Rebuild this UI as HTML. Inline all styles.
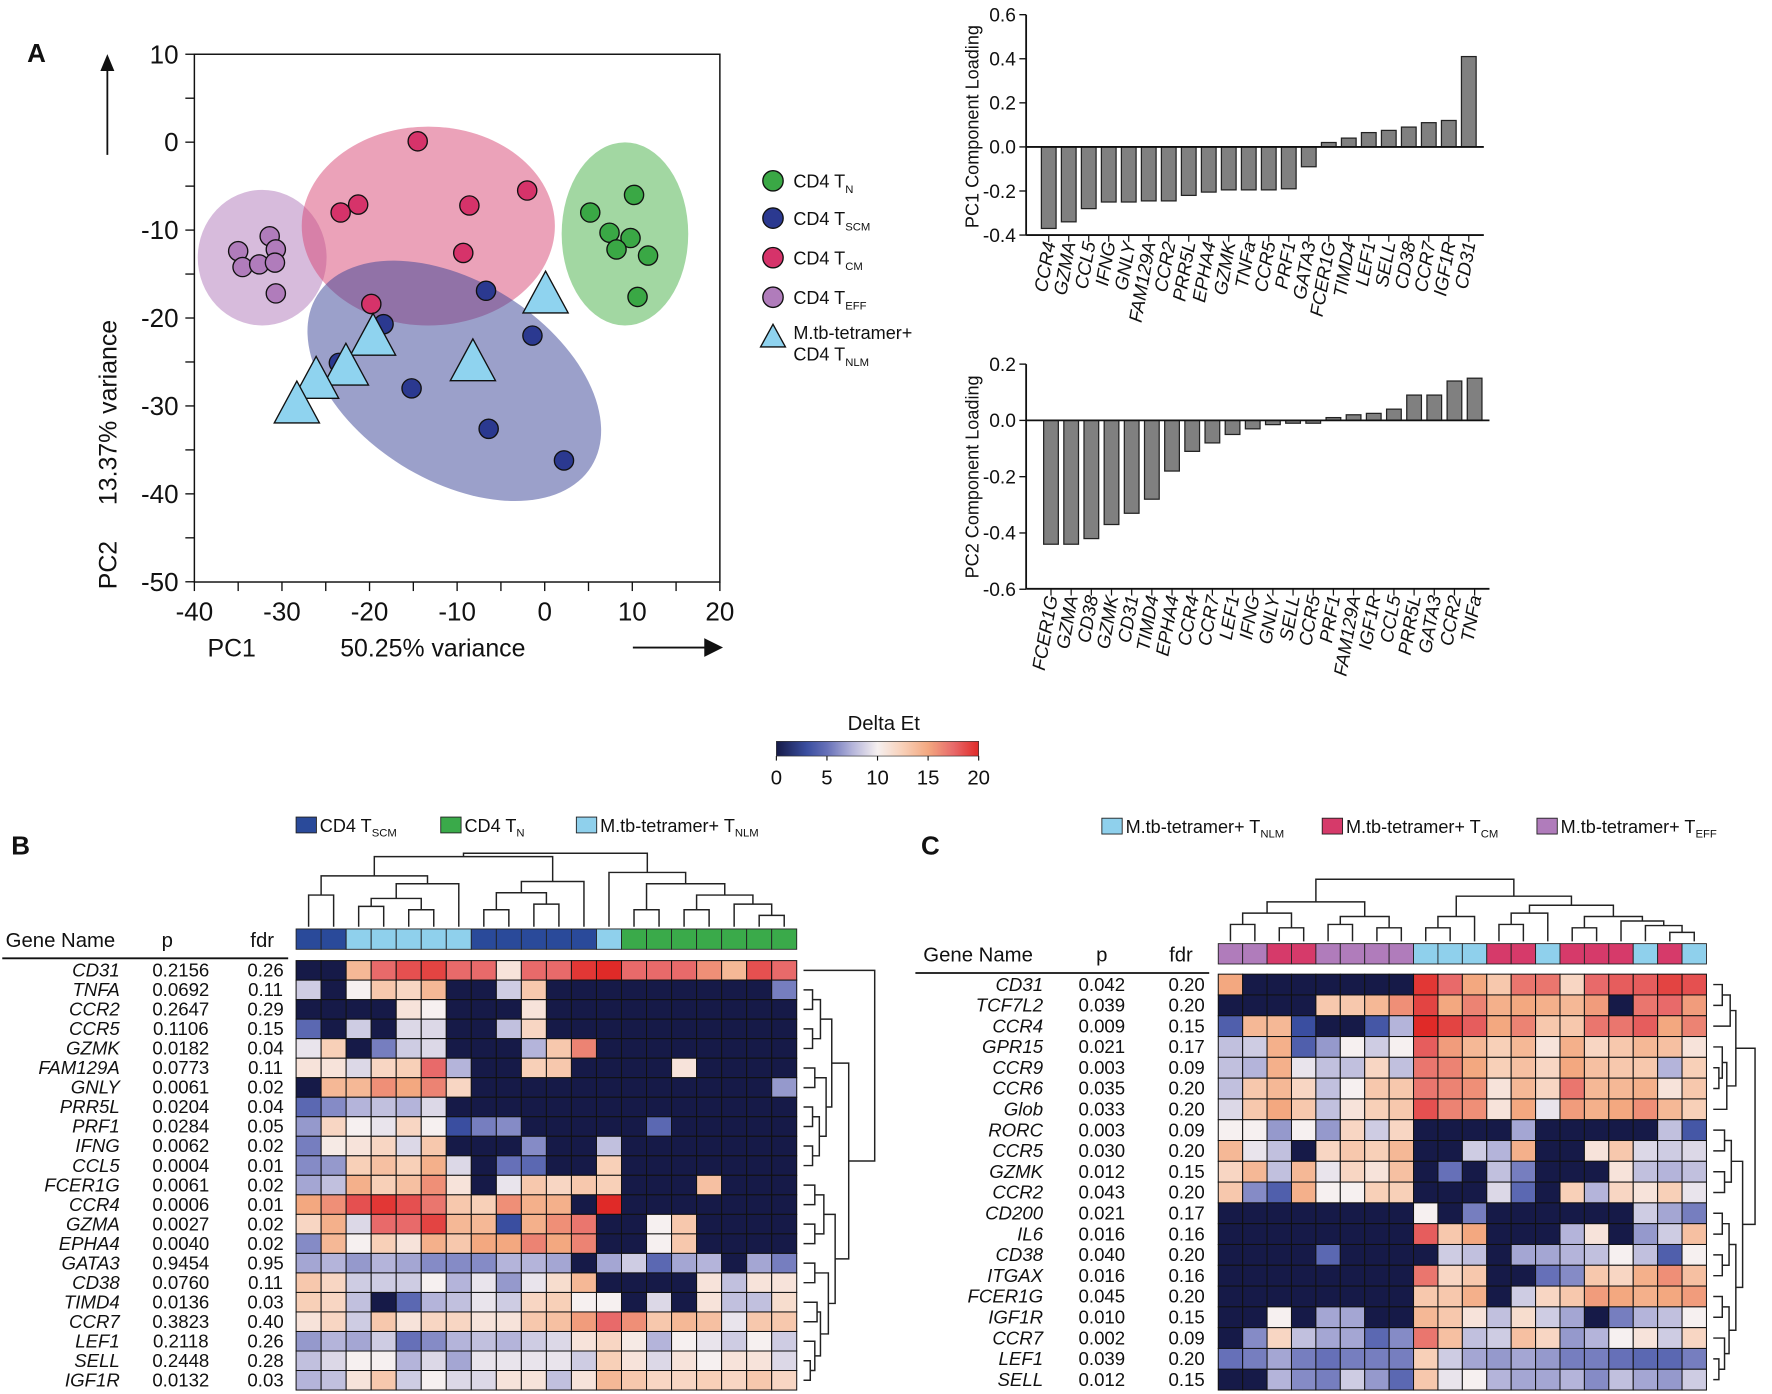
<!DOCTYPE html>
<html><head><meta charset="utf-8"><style>
html,body{margin:0;padding:0;background:#fff;}
svg{display:block;font-family:"Liberation Sans",Arial,sans-serif;}
</style></head><body>
<svg id="fig" width="1772" height="1394" viewBox="0 0 1568 1233.5" preserveAspectRatio="none" xmlns="http://www.w3.org/2000/svg"></svg>
<script>
// ---------- DATA ----------
const tnX=[10.2,5.2,7.4,9.8,8.2,11.8,10.6];
const tnY=[-6.0,-8.0,-10.3,-10.9,-12.2,-12.9,-17.6];
const tscmX=[-6.7,-1.4,-18.4,-23.5,-15.2,-6.4,2.2];
const tscmY=[-16.9,-22.0,-20.7,-25.1,-28.0,-32.6,-36.2];
const tcmX=[-14.5,-2.0,-8.6,-21.3,-23.3,-9.3,-19.8];
const tcmY=[0.1,-5.5,-7.2,-7.1,-8.0,-12.6,-18.4];
const teffX=[-31.4,-35.0,-30.7,-34.5,-32.6,-30.8,-30.7];
const teffY=[-10.7,-12.4,-12.2,-14.2,-13.9,-13.7,-17.2];
const tnlmX=[0.1,-19.6,-8.2,-22.7,-26.1,-28.3];
const tnlmY=[-17.5,-22.3,-25.2,-25.7,-27.2,-30.0];
const xTicks=[-40,-30,-20,-10,0,10,20];
const yTicks=[10,0,-10,-20,-30,-40,-50];

const pc1Genes=["CCR4","GZMA","CCL5","IFNG","GNLY","FAM129A","CCR2","PRR5L","EPHA4","GZMK","TNFa","CCR5","PRF1","GATA3","FCER1G","TIMD4","LEF1","SELL","CD38","CCR7","IGF1R","CD31"];
const pc1Vals=[-0.37,-0.34,-0.28,-0.25,-0.25,-0.245,-0.245,-0.22,-0.205,-0.195,-0.195,-0.195,-0.19,-0.09,0.02,0.04,0.065,0.075,0.09,0.11,0.12,0.41];
const pc1Ticks=[0.6,0.4,0.2,0.0,-0.2,-0.4];
const pc2Genes=["FCER1G","GZMA","CD38","GZMK","CD31","TIMD4","EPHA4","CCR4","CCR7","LEF1","IFNG","GNLY","SELL","CCR5","PRF1","FAM129A","IGF1R","CCL5","PRR5L","GATA3","CCR2","TNFa"];
const pc2Vals=[-0.44,-0.44,-0.42,-0.37,-0.33,-0.28,-0.18,-0.11,-0.08,-0.05,-0.03,-0.015,-0.01,-0.01,0.01,0.02,0.025,0.04,0.09,0.09,0.14,0.15];
const pc2Ticks=[0.2,0.0,-0.2,-0.4,-0.6];

const cbTicks=[0,5,10,15,20];

const bGenes=["CD31","TNFA","CCR2","CCR5","GZMK","FAM129A","GNLY","PRR5L","PRF1","IFNG","CCL5","FCER1G","CCR4","GZMA","EPHA4","GATA3","CD38","TIMD4","CCR7","LEF1","SELL","IGF1R"];
const bP=["0.2156","0.0692","0.2647","0.1106","0.0182","0.0773","0.0061","0.0204","0.0284","0.0062","0.0004","0.0061","0.0006","0.0027","0.0040","0.9454","0.0760","0.0136","0.3823","0.2118","0.2448","0.0132"];
const bFdr=["0.26","0.11","0.29","0.15","0.04","0.11","0.02","0.04","0.05","0.02","0.01","0.02","0.01","0.02","0.02","0.95","0.11","0.03","0.40","0.26","0.28","0.03"];
const bGroups=[1,1,2,2,2,2,2,1,1,1,1,1,2,0,0,0,0,0,0,0];
const bMatrix=[
[0,0,14,17.5,18.5,19,17.5,17.5,11,17.5,17.5,19.5,20,17.5,17.5,17.5,16,14,18.5,17.5],
[8.5,0,10,13,12,14,0,0,8.5,13,0,0,0,0,0,0,0,0,0,5.5],
[0,0,0,0,11,10,0,0,0,11,0,0,0,0,0,0,0,0,0,0],
[4.5,0,8.5,0,9,9,0,0,8,12,0,0,0,0,0,0,0,0,0,0],
[9.5,12.5,0,5.5,8.5,9,0,0,0,7.5,13,16.5,0,0,0,0,0,0,0,0],
[11,11,9,12,12.5,17.5,7.5,0,0,12.5,13,0,0,0,0,11,0,0,0,0],
[0,14,14,16,15,16.5,12,0,0,0,0,0,0,0,0,0,0,0,0,6.5],
[4.5,6,7.5,8,7.5,9,0,0,0,0,0,0,0,0,0,0,0,0,0,0],
[6.5,12,10,9.5,12,10,3,5.5,6,0,0,0,0,0,4.5,0,0,0,0,0],
[5.5,10.5,11,12,9,13,0,0,0,6,0,0,8,0,0,0,0,0,0,0],
[6,6.5,12.5,13.5,12.5,14.5,9,0,5,4.5,0,0,12.5,0,0,0,0,0,0,0],
[7,8,14.5,12.5,13.5,16,11,0,9.5,13,12,13,12.5,0,0,0,13.5,0,0,0],
[15,16,18.5,19.5,18.5,17,13,12.5,16,14.5,14.5,0,20,0,0,0,0,0,0,0],
[12,14.5,9,17.5,17.5,19,14,14,3,14.5,16,17,0,0,10,13,0,0,0,0],
[6,14,10,12.5,11,14.5,13,15,15,16.5,15,16.5,0,0,10,13,0,0,0,0],
[7,7.5,6.5,7.5,7,6,6,6,7.5,7.5,7,0,7,8.5,4.5,7,7.5,0,7,5.5],
[13,12,8.5,8.5,8.5,10,7.5,9.5,6.5,9.5,11.5,14,0,0,0,0,11,8,11,11],
[12.5,12,8,0,4.5,7.5,8,9.5,8.5,12,12.5,10,10,0,9,0,11,8,8,11.5],
[11,12,8.5,13,11,12,12,11,11,13,13.5,15.5,17.5,16,13,14,13.5,9.5,13,13],
[6.5,7.5,7,8.5,5,6,7.5,8,7.5,8.5,9,11,12,10.5,7.5,10,9.5,8.5,10,8.5],
[8,9,10,10,7.5,9,7,9.5,9.5,9.5,9.5,8.5,12.5,11,9,11,10,11,11,9],
[7.5,8,11,13,8.5,10,9,9,11,11,8,11,14,13,12,12,12.5,12,13,12]];

const cGenes=["CD31","TCF7L2","CCR4","GPR15","CCR9","CCR6","Glob","RORC","CCR5","GZMK","CCR2","CD200","IL6","CD38","ITGAX","FCER1G","IGF1R","CCR7","LEF1","SELL"];
const cP=["0.042","0.039","0.009","0.021","0.003","0.035","0.033","0.003","0.030","0.012","0.043","0.021","0.016","0.040","0.016","0.045","0.010","0.002","0.039","0.012"];
const cFdr=["0.20","0.20","0.15","0.17","0.09","0.20","0.20","0.09","0.20","0.15","0.20","0.17","0.16","0.20","0.16","0.20","0.15","0.09","0.20","0.15"];
const cGroups=[2,2,1,1,2,2,2,2,0,0,0,1,1,0,1,1,1,0,1,0];
const cMatrix=[
[15,0,0,0,0,0,0,0,19.5,17.5,15,13,17,17,12,17.5,18,18,19,18.5],
[0,0,0,0,13,13,14,16,19,15,16.5,14.5,15,14.5,14,15.5,0,17,17.5,15.5],
[4,14,14,3,0,0,3.5,7.5,20,19,18,15,16.5,13,13,17,17,18,15,16.5],
[8,8.5,14.5,4,6.5,10,8.5,10,18,15.5,14,12.5,14,11,14.5,12,13,14,13.5,11],
[8,7.5,14.5,9.5,8,8,12,8,17,16.5,15,12.5,13.5,12,15,13.5,13,13,7.5,12.5],
[8,13,14,12,8,10,13,13,17,16.5,16,11,14,12,17,14,14,14.5,11,13],
[9,13,15,13,8,11,12.5,13,18.5,16.5,16,11,15,9.5,15.5,14.5,15,16,14,12.5],
[10,10,6.5,10,6.5,12,8.5,12,0,0,0,0,7,0,0,0,0,0,8,3.5],
[14,9.5,8,0,12,13,12.5,14,0,0,8.5,7.5,14.5,0,0,11,13,9,8.5,9],
[12,14,8,14,9.5,12,11,13.5,0,5,0,8,5.5,0,0,0,11,8,7.5,8],
[13,6,4,14.5,10,10,12.5,12.5,0,0,0,9,4.5,0,12.5,7.5,12,11,12.5,9.5],
[0,0,0,0,0,0,0,0,10,0,5.5,0,0,0,0,0,0,8.5,7,5.5],
[0,0,0,0,0,0,0,0,18,13,15,0,0,0,7.5,11,0,6.5,8.5,13.5],
[0,0,0,0,4.5,0,0,0,0,8.5,8,0,7,7,7.5,8,10,8,4,10],
[0,0,0,0,0,0,0,0,17,12,13,0,0,5,6,13,12,14.5,16,13.5],
[0,0,0,0,0,0,0,0,13,13,14.5,0,8.5,12,13,15.5,15,14.5,15,15.5],
[0,0,10,0,7,7,0,0,14,13,11,8,11.5,8.5,7,0,5.5,7.5,8,10],
[0,6,12,8,7,7,4.5,6,17,13.5,8,8.5,13.5,12,6.5,7.5,10,11,8.5,12],
[5,5.5,7,5.5,5,5.5,5.5,5.5,12.5,8.5,7,6.5,7,6.5,5.5,5.5,5,4.5,4.5,5.5],
[0,0,7.5,6,5.5,8.5,6.5,4.5,13,9.5,10,7.5,7,7,7.5,6,8,7,6.5,8.5]];

// dendrogram topologies [left,right,height]
const bTopTree=[[[[0,1,28],[[[2,3,18],[4,5,15],25],6,38],45],[[[7,8,15],[9,10,20],30],11,40],62],[12,[[13,14,15],[[15,16,15],[17,[18,19,10],20],28],38],48],65];
const bSideTree=[0,[[[[1,2,8],[3,4,8],15],[[5,6,10],[[7,8,8],[9,10,8],14],20],25],[[[11,12,10],[13,14,10],18],[[15,16,10],[[17,18,12],[19,[20,21,6],10],15],22],28],40],63];
const cTopTree=[[[[0,1,15],[2,3,12],25],[[4,5,15],[6,7,12],22],35],[[[8,9,12],10,22],[[[11,12,15],13,25],[[14,15,12],[16,[17,[18,19,8],14],18],22],32],40],55];
const cSideTree=[[[[0,1,8],2,15],[[3,[4,5,5],8],6,12],20],[[[7,8,10],[9,10,10],16],[[[11,12,8],[13,14,8],14],[[15,16,8],[17,[18,19,5],10],14],20],26],37];

// ---------- HELPERS ----------
const NS="http://www.w3.org/2000/svg";
const svg=document.getElementById('fig');
function mk(tag,attrs,parent){const e=document.createElementNS(NS,tag);for(const k in attrs)e.setAttribute(k,attrs[k]);(parent||svg).appendChild(e);return e;}
function txt(x,y,s,size,extra,parent){const e=mk('text',Object.assign({x:x,y:y,'font-size':size,fill:'#111'},extra||{}),parent);e.textContent=s;return e;}
const stops=[[0,[22,26,72]],[3,[58,78,160]],[5,[102,112,184]],[7.5,[180,180,218]],[10,[246,240,240]],[12.5,[248,208,184]],[15,[243,168,128]],[17.5,[232,106,106]],[20,[224,42,40]]];
function heat(v){v=Math.max(0,Math.min(20,v));for(let i=1;i<stops.length;i++){if(v<=stops[i][0]){const a=stops[i-1],b=stops[i];const t=(v-a[0])/(b[0]-a[0]);const c=a[1].map((x,j)=>Math.round(x+(b[1][j]-x)*t));return 'rgb('+c.join(',')+')';}}return 'rgb(224,42,40)';}

// ---------- PANEL A SCATTER ----------
const sx=v=>172+(v+40)*7.75;
const sy=v=>48+(10-v)*7.78;
let e;
e=txt(24,55,'A',23,{'font-weight':'bold'});


const gEll=mk('g',{});


e=mk('ellipse',{cx:232,cy:228,rx:57,ry:60,fill:'rgb(175,120,185)','fill-opacity':0.5},gEll);


e=mk('ellipse',{cx:379,cy:200,rx:112,ry:88,fill:'rgb(215,70,115)','fill-opacity':0.5},gEll);


e=mk('ellipse',{cx:553,cy:207,rx:56,ry:81,fill:'rgb(70,175,70)','fill-opacity':0.5},gEll);


e=mk('ellipse',{cx:0,cy:0,rx:143,ry:88,fill:'rgb(55,65,150)','fill-opacity':0.5,transform:'translate(402,337) rotate(32)'},gEll);



e=mk('rect',{x:172,y:48,width:465,height:467,fill:'none',stroke:'#111','stroke-width':1.3});


for(let v=-40;v<=20;v+=5){const t=mk('line',{x1:sx(v),x2:sx(v),y1:515,y2:523,stroke:'#111','stroke-width':1.2});

}
for(let v=10;v>=-50;v-=5){const t=mk('line',{x1:164,x2:172,y1:sy(v),y2:sy(v),stroke:'#111','stroke-width':1.2});

}
xTicks.forEach(v=>{const t=txt(sx(v),549,String(v),23,{'text-anchor':'middle'});

});
yTicks.forEach(v=>{const t=txt(158,sy(v)+8,String(v),23,{'text-anchor':'end'});

});
e=txt(205,581,'PC1',22,{'text-anchor':'middle'});


e=txt(383,581,'50.25% variance',22,{'text-anchor':'middle'});


e=txt(0,0,'PC2',22,{'text-anchor':'middle',transform:'translate(103,500) rotate(-90)'});


e=txt(0,0,'13.37% variance',22,{'text-anchor':'middle',transform:'translate(103,365) rotate(-90)'});


e=mk('path',{d:'M95 137 L95 58 M90 62 L95 50 L100 62 Z',stroke:'#111','stroke-width':1.6,fill:'#111'});


e=mk('path',{d:'M560 573 L628 573 M624 566 L638 573 L624 580 Z',stroke:'#111','stroke-width':1.6,fill:'#111'});



function dots(xs,ys,col,name){xs.forEach((x,i)=>{const c=mk('circle',{cx:sx(x),cy:sy(ys[i]),r:8.5,fill:col,stroke:'#111','stroke-width':1.2});

});}
dots(teffX,teffY,'#b07cbb','teff-point');
dots(tcmX,tcmY,'#d6336a','tcm-point');
dots(tnX,tnY,'#3aa845','tn-point');
dots(tscmX,tscmY,'#2b3990','tscm-point');
tnlmX.forEach((x,i)=>{const cx=sx(x),cy=sy(tnlmY[i]);const p=mk('polygon',{points:(cx)+','+(cy-22)+' '+(cx-20)+','+(cy+15)+' '+(cx+20)+','+(cy+15),fill:'#8fd3ef',stroke:'#111','stroke-width':1.2});

});

// legend A
const legA=[['#3aa845','N',160],['#2b3990','SCM',193],['#d6336a','CM',228],['#b07cbb','EFF',263]];
legA.forEach(l=>{const c=mk('circle',{cx:684,cy:l[2],r:9,fill:l[0],stroke:'#111','stroke-width':1.2});


const t=txt(702,l[2]+6,'CD4 T',16);


const s=mk('tspan',{'font-size':10,dy:5},t);s.textContent=l[1];});
e=mk('polygon',{points:'684,287 673,307 695,307',fill:'#8fd3ef',stroke:'#111','stroke-width':1.2});


e=txt(702,300,'M.tb-tetramer+',16);


e=txt(702,319,'CD4 T',16);


e=mk('tspan',{'font-size':10,dy:5},e);e.textContent='NLM';

// ---------- BAR CHARTS ----------
function barChart(genes,vals,ticks,opt){
  const by=v=>opt.zeroY-v*opt.scale;
  const bx=i=>opt.x0+i*opt.step;
  const g=mk('g',{});
  
  
  vals.forEach((v,i)=>{const y1=Math.min(by(v),by(0)),h=Math.abs(by(v)-by(0));const r=mk('rect',{x:bx(i)-6.5,y:y1,width:13,height:Math.max(h,1.5),fill:'#808080',stroke:'#222','stroke-width':1.1},g);
  
  
  const t=txt(0,0,genes[i],16.5,{'text-anchor':'end','font-style':'italic',transform:'translate('+(bx(i)+6)+','+(opt.bottom+7)+') rotate(-80)'},g);
  
  
  const tk=mk('line',{x1:bx(i),x2:bx(i),y1:opt.bottom,y2:opt.bottom+6,stroke:'#111','stroke-width':1.1},g);
  
  });
  let l=mk('line',{x1:opt.ax,x2:opt.ax,y1:by(ticks[0]),y2:opt.bottom,stroke:'#111','stroke-width':1.6},g);
  
  
  l=mk('line',{x1:opt.ax,x2:opt.right,y1:opt.bottom,y2:opt.bottom,stroke:'#111','stroke-width':1.6},g);
  
  
  l=mk('line',{x1:opt.ax,x2:opt.right,y1:by(0),y2:by(0),stroke:'#111','stroke-width':1.6},g);
  
  
  ticks.forEach(v=>{const tl=mk('line',{x1:opt.ax-6,x2:opt.ax,y1:by(v),y2:by(v),stroke:'#111','stroke-width':1.2},g);
  
  
  const t=txt(opt.ax-9,by(v)+6,v.toFixed(1),17,{'text-anchor':'end'},g);
  
  });
  const yt=txt(0,0,opt.title,16,{'text-anchor':'middle',transform:'translate('+(opt.ax-42)+','+opt.titleY+') rotate(-90)'},g);
  
  
}
barChart(pc1Genes,pc1Vals,pc1Ticks,{name:'pc1-loading-chart',zeroY:130,scale:195,x0:928,step:17.7,ax:908,right:1313,bottom:208,title:'PC1 Component Loading',titleY:112});
barChart(pc2Genes,pc2Vals,pc2Ticks,{name:'pc2-loading-chart',zeroY:372,scale:249,x0:930,step:17.85,ax:908,right:1318,bottom:521,title:'PC2 Component Loading',titleY:422});

// ---------- COLORBAR ----------
const defs=mk('defs',{});
const grad=mk('linearGradient',{id:'cbg',x1:0,x2:1,y1:0,y2:0},defs);
stops.forEach(s=>{mk('stop',{offset:(s[0]/20*100)+'%','stop-color':'rgb('+s[1].join(',')+')'},grad);});
e=txt(782,646,'Delta Et',18,{'text-anchor':'middle'});


e=mk('rect',{x:687,y:656,width:179,height:13,fill:'url(#cbg)',stroke:'#333','stroke-width':0.6});


cbTicks.forEach(v=>{const x=687+v/20*179;const l=mk('line',{x1:x,x2:x,y1:669,y2:673,stroke:'#111'});


const t=txt(x,694,String(v),18,{'text-anchor':'middle'});

});

// ---------- DENDROGRAMS ----------
function dendro(tree,pos,base,dir,name){
  const g=mk('g',{});
  
  
  let d='';
  function walk(n){
    if(typeof n==='number')return {p:pos(n),h:0};
    const a=walk(n[0]),b=walk(n[1]),h=n[2];
    if(dir==='top'){d+='M'+a.p+' '+(base-a.h)+'V'+(base-h)+'H'+b.p+'V'+(base-b.h);}
    else{d+='M'+(base+a.h)+' '+a.p+'H'+(base+h)+'V'+b.p+'H'+(base+b.h);}
    return {p:(a.p+b.p)/2,h:h};
  }
  walk(tree);
  mk('path',{d:d,fill:'none',stroke:'#222','stroke-width':1.3},g);
}

// ---------- HEATMAPS ----------
function heatmap(o){
  const cw=(o.x1-o.x0)/o.ncol,rh=(o.y1-o.y0)/o.genes.length;
  const g=mk('g',{});
  
  
  o.groups.forEach((gr,j)=>{const r=mk('rect',{x:o.x0+j*cw,y:o.barY,width:cw,height:o.barH,fill:o.groupCols[gr],stroke:'#222','stroke-width':0.8},g);
  
  });
  o.matrix.forEach((row,i)=>{row.forEach((v,j)=>{const r=mk('rect',{x:o.x0+j*cw,y:o.y0+i*rh,width:cw,height:rh,fill:heat(v),stroke:'#111','stroke-width':0.9},g);
  
  });
  const cy=o.y0+(i+0.5)*rh+5.5;
  let t=txt(o.geneX,cy,o.genes[i],16.5,{'text-anchor':'end','font-style':'italic'},g);
  
  
  t=txt(o.pX,cy,o.p[i],16.5,{'text-anchor':'middle'},g);
  
  
  t=txt(o.fX,cy,o.fdr[i],16.5,{'text-anchor':'middle'},g);
  
  });
  let t=txt(o.hdrX[0],o.hdrY,'Gene Name',18,{},g);
  
  
  t=txt(o.hdrX[1],o.hdrY,'p',18,{'text-anchor':'middle'},g);
  
  
  t=txt(o.hdrX[2],o.hdrY,'fdr',18,{'text-anchor':'middle'},g);
  
  
  const l=mk('line',{x1:o.lineX[0],x2:o.lineX[1],y1:o.hdrY+10,y2:o.hdrY+10,stroke:'#111','stroke-width':1.6},g);
  
  
  dendro(o.topTree,j=>o.x0+(j+0.5)*cw,o.barY-2,'top',o.name+'-column-dendrogram');
  dendro(o.sideTree,i=>o.y0+(i+0.5)*rh,o.x1+6,'side',o.name+'-row-dendrogram');
}
heatmap({name:'heatmap-b',x0:262,x1:705,y0:850,y1:1230,ncol:20,barY:822,barH:18,genes:bGenes,p:bP,fdr:bFdr,matrix:bMatrix,groups:bGroups,groupCols:['#3aaa4a','#2a4a9a','#8fd0ec'],geneX:106,pX:160,fX:235,hdrX:[5,148,232],hdrY:838,lineX:[2,255],topTree:bTopTree,sideTree:bSideTree});
heatmap({name:'heatmap-c',x0:1078,x1:1510,y0:862,y1:1230,ncol:20,barY:835,barH:18,genes:cGenes,p:cP,fdr:cFdr,matrix:cMatrix,groups:cGroups,groupCols:['#8fd0ec','#d63a6a','#b07cbb'],geneX:923,pX:975,fX:1050,hdrX:[817,975,1045],hdrY:851,lineX:[810,1070],topTree:cTopTree,sideTree:cSideTree});

// panel labels and legends B/C
e=txt(10,756,'B',23,{'font-weight':'bold'});


e=txt(815,756,'C',23,{'font-weight':'bold'});


function legendItem(x,y,col,main,sub,name){const r=mk('rect',{x:x,y:y-13,width:18,height:14,fill:col,stroke:'#222','stroke-width':0.8});


const t=txt(x+21,y,main,16);


const s=mk('tspan',{'font-size':10,dy:4},t);s.textContent=sub;}
legendItem(262,736,'#2a4a9a','CD4 T','SCM','legend-b-tscm');
legendItem(390,736,'#3aaa4a','CD4 T','N','legend-b-tn');
legendItem(510,736,'#8fd0ec','M.tb-tetramer+ T','NLM','legend-b-tnlm');
legendItem(975,737,'#8fd0ec','M.tb-tetramer+ T','NLM','legend-c-tnlm');
legendItem(1170,737,'#d63a6a','M.tb-tetramer+ T','CM','legend-c-tcm');
legendItem(1360,737,'#b07cbb','M.tb-tetramer+ T','EFF','legend-c-teff');
</script>
</body></html>
